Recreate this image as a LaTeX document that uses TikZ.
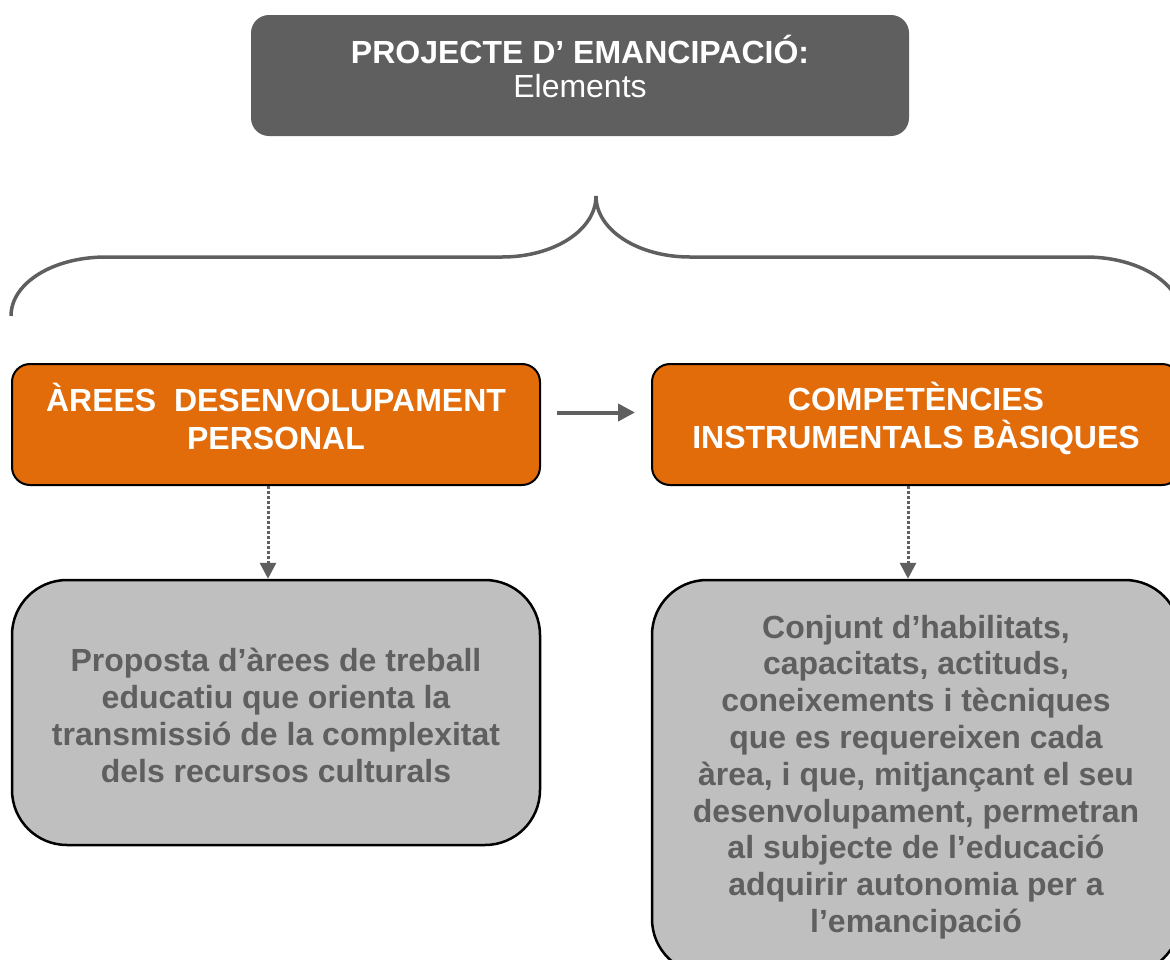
\documentclass[tikz,border=0pt]{standalone}
\usepackage{fontspec}
\setmainfont{Liberation Sans}
\usetikzlibrary{arrows.meta}
\definecolor{darkgr}{HTML}{5F5F5F}
\definecolor{orng}{HTML}{E26B0A}
\definecolor{lightgr}{HTML}{BFBFBF}
\begin{document}
\begin{tikzpicture}[x=1pt,y=-1pt,
  topbox/.style={fill=darkgr, rounded corners=18pt, minimum width=658pt, minimum height=121pt, inner sep=0pt},
  headbox/.style={fill=orng, draw=black, line width=2pt, rounded corners=18pt, minimum width=528pt, minimum height=121pt, inner sep=0pt},
  headtext/.style={align=center, text=white, inner sep=0pt, font=\fontsize{32}{38}\selectfont\bfseries},
  infobox/.style={fill=lightgr, draw=black, line width=2.5pt, rounded corners=55pt, minimum width=528pt, inner sep=0pt, align=center, text=darkgr, font=\fontsize{32}{36.8}\selectfont\bfseries},
  infotext/.style={align=center, text=darkgr, inner sep=0pt, font=\fontsize{32}{36.8}\selectfont\bfseries},
  brace/.style={draw=darkgr, line width=3.5pt},
  solidarrow/.style={draw=darkgr, line width=4pt, -{Triangle[length=17pt,width=17pt]}},
  dotarrow/.style={draw=darkgr, line width=3pt, dash pattern=on 2.5pt off 2.5pt, -{Triangle[length=16pt,width=16pt]}}
]
\useasboundingbox (0,0) rectangle (1170,959);
\clip (0,0) rectangle (1170,959);

% top box
\node[topbox] (top) at (580,75.5) {};
\node[text=white, align=center, font=\fontsize{32}{34}\selectfont] (toptext) at (580,66.5)
  {\bfseries PROJECTE D’ EMANCIPACIÓ:\\ Elements};

% brace
\draw[brace] (11,316) .. controls (11,283) and (53,257) .. (106,257)
  -- (502,257) .. controls (554,257) and (596,230) .. (596,196)
  .. controls (596,230) and (638,257) .. (690,257)
  -- (1086,257) .. controls (1138,257) and (1181,283) .. (1181,316);

% orange boxes
\node[headbox, label={[headtext, yshift=8pt]center:{ÀREES\ \ DESENVOLUPAMENT\\PERSONAL}}] (a1) at (276,424.5) {};
\node[headbox, label={[headtext, yshift=6pt]center:{COMPETÈNCIES\\INSTRUMENTALS BÀSIQUES}}] (a2) at (916,424.5) {};

% gray boxes
\node[infobox, minimum height=265pt,
  label={[infotext, yshift=-3pt]center:{Proposta d’àrees de treball\\educatiu que orienta la\\transmissió de la complexitat\\dels recursos culturals}}] (g1) at (276,712.5) {};
\node[infobox, minimum height=394pt] (g2) at (916,777)
  {Conjunt d’habilitats,\\capacitats, actituds,\\coneixements i tècniques\\que es requereixen cada\\àrea, i que, mitjançant el seu\\desenvolupament, permetran\\al subjecte de l’educació\\adquirir autonomia per a\\l’emancipació};

% connectors
\draw[solidarrow, shorten <=16pt, shorten >=16pt] ([yshift=12pt]a1.east) -- ([yshift=12pt]a2.west);
\draw[dotarrow] ([xshift=-8pt]a1.south) -- ([xshift=-8pt]g1.north);
\draw[dotarrow] ([xshift=-8pt]a2.south) -- ([xshift=-8pt]g2.north);
\end{tikzpicture}
\end{document}
